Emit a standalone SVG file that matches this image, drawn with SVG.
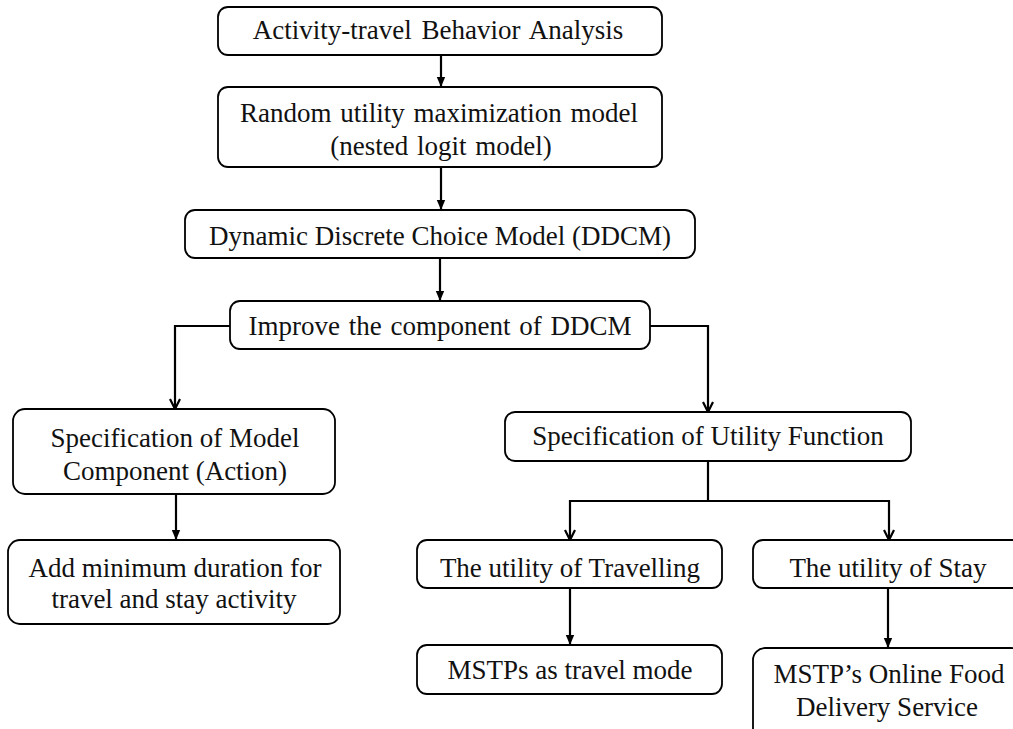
<svg xmlns="http://www.w3.org/2000/svg" width="1013" height="729" viewBox="0 0 1013 729">
  <style>
    .box { fill: #ffffff; stroke: #000000; stroke-width: 1.8; }
    .lbl { font-family: "Liberation Serif", "Times New Roman", serif; font-size: 27px; fill: #111111; text-anchor: middle; }
    .conn { fill: none; stroke: #000000; stroke-width: 2.2; }
  </style>
  <defs>
    <marker id="filled" markerUnits="userSpaceOnUse" markerWidth="12" markerHeight="12" refX="10" refY="5" orient="auto">
      <path d="M0,0.8 L10,5 L0,9.2 z" fill="#000000"/>
    </marker>
    <marker id="open" markerUnits="userSpaceOnUse" markerWidth="14" markerHeight="14" refX="11" refY="6" orient="auto">
      <path d="M1,1 L11,6 L1,11" fill="none" stroke="#000000" stroke-width="2.2"/>
    </marker>
  </defs>
  <rect width="1013" height="729" fill="#ffffff"/>

  <g id="connectors">
    <path class="conn" d="M441 55 V87" marker-end="url(#filled)"/>
    <path class="conn" d="M441 167 V210" marker-end="url(#filled)"/>
    <path class="conn" d="M440 258 V301" marker-end="url(#filled)"/>
    <path class="conn" d="M230 326 H175 V409" marker-end="url(#open)"/>
    <path class="conn" d="M650 326 H708 V412" marker-end="url(#open)"/>
    <path class="conn" d="M176 494 V540" marker-end="url(#filled)"/>
    <path class="conn" d="M708 461 V501"/>
    <path class="conn" d="M708 501 H570 V540" marker-end="url(#open)"/>
    <path class="conn" d="M708 501 H889 V540" marker-end="url(#open)"/>
    <path class="conn" d="M570 588 V645" marker-end="url(#filled)"/>
    <path class="conn" d="M888 588 V648" marker-end="url(#filled)"/>
  </g>

  <g id="n1">
    <rect class="box" x="218" y="7" width="444" height="48" rx="10"/>
    <text class="lbl" x="438" y="39" word-spacing="3">Activity-travel Behavior Analysis</text>
  </g>
  <g id="n2">
    <rect class="box" x="218" y="87" width="444" height="80" rx="10"/>
    <text class="lbl" x="439" y="122" word-spacing="2">Random utility maximization model</text>
    <text class="lbl" x="441" y="155" word-spacing="2">(nested logit model)</text>
  </g>
  <g id="n3">
    <rect class="box" x="185" y="210" width="510" height="48" rx="10"/>
    <text class="lbl" x="440" y="245">Dynamic Discrete Choice Model (DDCM)</text>
  </g>
  <g id="n4">
    <rect class="box" x="230" y="301" width="420" height="48" rx="10"/>
    <text class="lbl" x="440" y="335" word-spacing="2">Improve the component of DDCM</text>
  </g>
  <g id="n5">
    <rect class="box" x="13" y="409" width="322" height="85" rx="12"/>
    <text class="lbl" x="175" y="447">Specification of Model</text>
    <text class="lbl" x="175" y="480">Component (Action)</text>
  </g>
  <g id="n6">
    <rect class="box" x="8" y="540" width="332" height="84" rx="12"/>
    <text class="lbl" x="175" y="577">Add minimum duration for</text>
    <text class="lbl" x="174" y="608">travel and stay activity</text>
  </g>
  <g id="n7">
    <rect class="box" x="505" y="412" width="406" height="49" rx="10"/>
    <text class="lbl" x="708" y="445">Specification of Utility Function</text>
  </g>
  <g id="n8">
    <rect class="box" x="417" y="540" width="305" height="48" rx="10"/>
    <text class="lbl" x="570" y="577">The utility of Travelling</text>
  </g>
  <g id="n9">
    <rect class="box" x="753" y="540" width="270" height="48" rx="10"/>
    <text class="lbl" x="888" y="577">The utility of Stay</text>
  </g>
  <g id="n10">
    <rect class="box" x="417" y="645" width="305" height="49" rx="10"/>
    <text class="lbl" x="570" y="679">MSTPs as travel mode</text>
  </g>
  <g id="n11">
    <rect class="box" x="753" y="648" width="270" height="100" rx="12"/>
    <text class="lbl" x="889" y="683">MSTP’s Online Food</text>
    <text class="lbl" x="887" y="716">Delivery Service</text>
  </g>
</svg>
